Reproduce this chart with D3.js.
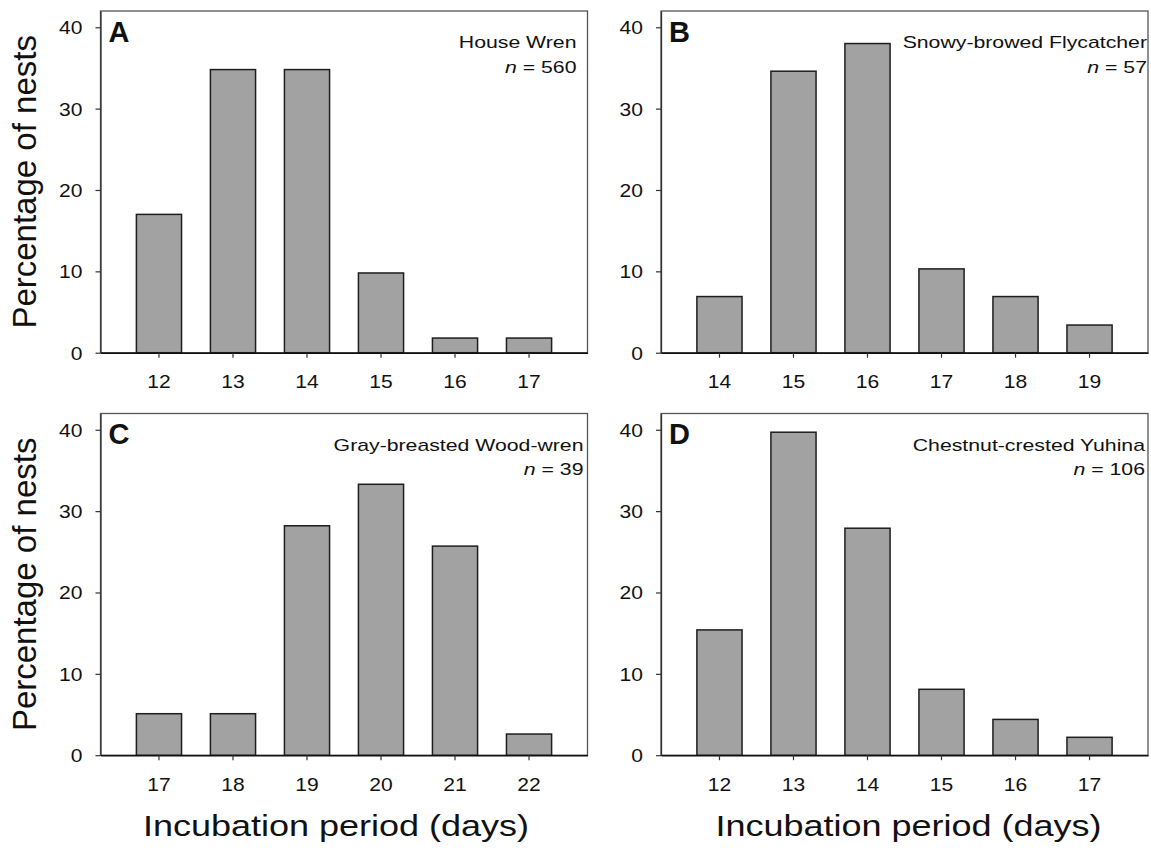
<!DOCTYPE html>
<html>
<head>
<meta charset="utf-8">
<script src="https://cdn.jsdelivr.net/npm/d3@7"></script>
<style>
  body { margin: 0; background: #fff; }
  text { font-family: 'Liberation Sans', Arial, sans-serif; fill: #111; }
</style>
</head>
<body>
<div id="chart"></div>
<script>
// data (percentage of nests per incubation period)
const daysA = [12, 13, 14, 15, 16, 17];
const pctA = [17.0, 34.8, 34.8, 9.8, 1.8, 1.8];
const daysB = [14, 15, 16, 17, 18, 19];
const pctB = [6.9, 34.6, 38.0, 10.3, 6.9, 3.4];
const daysC = [17, 18, 19, 20, 21, 22];
const pctC = [5.1, 5.1, 28.2, 33.3, 25.7, 2.6];
const daysD = [12, 13, 14, 15, 16, 17];
const pctD = [15.4, 39.7, 27.9, 8.1, 4.4, 2.2];

const species = ['House Wren', 'Snowy-browed Flycatcher', 'Gray-breasted Wood-wren', 'Chestnut-crested Yuhina'];
const sampleSizes = [560, 57, 39, 106];
const panelLetters = ['A', 'B', 'C', 'D'];
const yTicks = [0, 10, 20, 30, 40];
const yTitle = 'Percentage of nests';
const xTitle = 'Incubation period (days)';

const panels = [
  { days: daysA, pct: pctA },
  { days: daysB, pct: pctB },
  { days: daysC, pct: pctC },
  { days: daysD, pct: pctD },
];

// layout
const W = 1151, H = 850;
const panelW = 487, panelH = 341.7;
const lefts = [100.5, 661];
const tops = [11, 413.5];
const labelInset = [11, 1, 4, 3];
const xTitleShift = [-8, 4];
const tickStretch = 1.17;

const svg = d3.select('#chart')
  .append('svg')
  .attr('width', W)
  .attr('height', H);

panels.forEach((p, i) => {
  const col = i % 2;
  const row = Math.floor(i / 2);
  const left = lefts[col];
  const top = tops[row];

  const x = d3.scaleBand()
    .domain(p.days)
    .range([0, panelW])
    .paddingInner(0.39)
    .paddingOuter(0.485);
  const y = d3.scaleLinear().domain([0, 42]).range([panelH, 0]);

  const g = svg.append('g').attr('transform', `translate(${left},${top})`);

  // frame
  g.append('rect')
    .attr('width', panelW)
    .attr('height', panelH)
    .attr('fill', 'none')
    .attr('stroke', '#555')
    .attr('stroke-width', 1.3);

  // bars
  g.selectAll('.bar')
    .data(p.days.map((d, k) => ({ day: d, v: p.pct[k] })))
    .enter()
    .append('rect')
    .attr('class', 'bar')
    .attr('x', (d) => x(d.day))
    .attr('y', (d) => y(d.v))
    .attr('width', x.bandwidth())
    .attr('height', (d) => panelH - y(d.v))
    .attr('fill', '#a2a2a2')
    .attr('stroke', '#1e1e1e')
    .attr('stroke-width', 1.5);

  // y axis
  const yAxis = g.append('g')
    .call(d3.axisLeft(y).tickValues(yTicks).tickSize(5).tickSizeOuter(0).tickPadding(13));
  yAxis.attr('font-size', 18);
  yAxis.select('.domain').attr('stroke', '#333').attr('stroke-width', 1.3);
  yAxis.selectAll('line').attr('stroke', '#333').attr('stroke-width', 1.2);
  yAxis.selectAll('text')
    .attr('x', -18 / tickStretch)
    .attr('dy', '0.36em')
    .attr('transform', `scale(${tickStretch},1)`);

  // x axis
  const xAxis = g.append('g')
    .attr('transform', `translate(0,${panelH})`)
    .call(d3.axisBottom(x).tickSize(5).tickSizeOuter(0).tickPadding(18));
  xAxis.attr('font-size', 18);
  xAxis.select('.domain').attr('stroke', '#111').attr('stroke-width', 1.6);
  xAxis.selectAll('line').attr('stroke', '#333').attr('stroke-width', 1.2);
  xAxis.selectAll('text').attr('transform', `scale(${tickStretch},1)`);

  // panel letter
  g.append('text')
    .attr('x', 8)
    .attr('y', 30.7)
    .attr('font-size', 29)
    .attr('font-weight', 'bold')
    .text(panelLetters[i]);

  // species label and sample size
  const lab = g.append('g')
    .attr('transform', `translate(${panelW - labelInset[i]},37) scale(1.25,1)`)
    .attr('font-size', 17)
    .attr('text-anchor', 'end');
  lab.append('text').text(species[i]);
  const nLine = lab.append('text').attr('y', 25);
  nLine.append('tspan').attr('font-style', 'italic').text('n');
  nLine.append('tspan').text(` = ${sampleSizes[i]}`);

  // axis titles
  if (col === 0) {
    svg.append('text')
      .attr('transform', `translate(36,${top + panelH / 2}) rotate(-90)`)
      .attr('text-anchor', 'middle')
      .attr('font-size', 33)
      .text(yTitle);
  }
  if (row === 1) {
    svg.append('text')
      .attr('transform', `translate(${left + panelW / 2 + xTitleShift[col]},836) scale(1.2,1)`)
      .attr('text-anchor', 'middle')
      .attr('font-size', 30)
      .text(xTitle);
  }
});
</script>
</body>
</html>
